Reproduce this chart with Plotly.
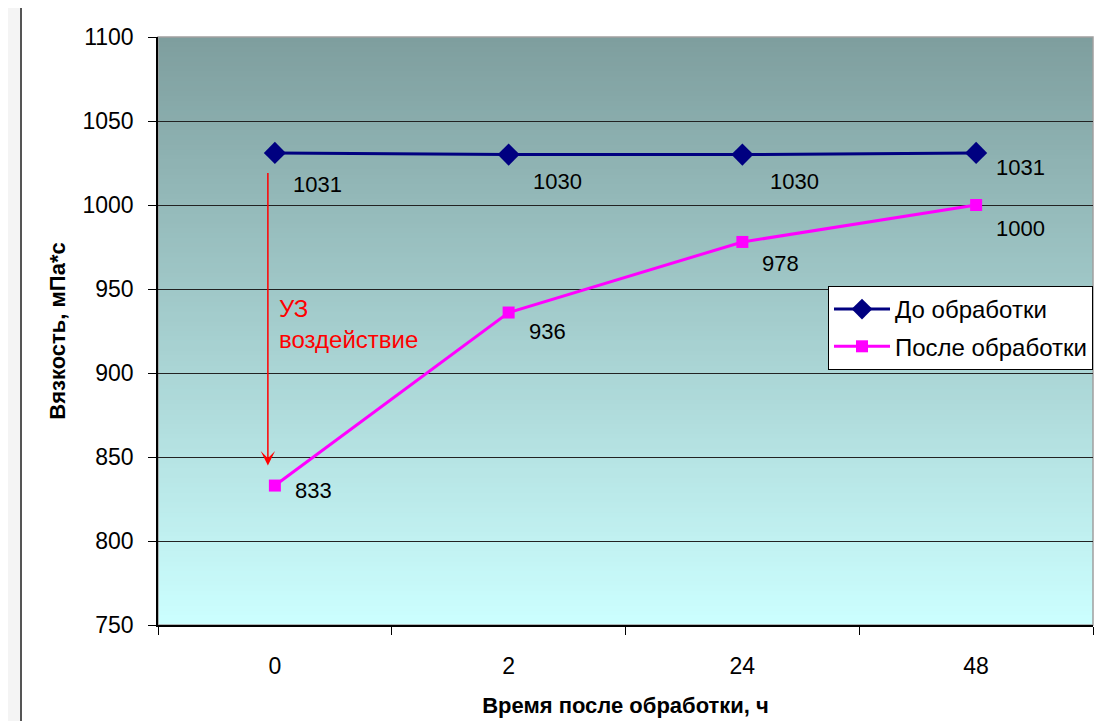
import plotly.graph_objects as go

# ---- data ----
times = ["0", "2", "24", "48"]
before = [1031, 1030, 1030, 1031]
after = [833, 936, 978, 1000]
y_ticks = [750, 800, 850, 900, 950, 1000, 1050, 1100]
series_names = ["До обработки", "После обработки"]
x_title = "Время после обработки, ч"
y_title = "Вязкость, мПа*с"
arrow_text = "УЗ<br>воздействие"
arrow_from = 1020
arrow_to = 845
arrow_label_y = 929

# ---- style ----
FONT = "Liberation Sans, Arial, sans-serif"
before_dx = [16, 22, 26, 18]
before_dy = [32, 27, 27, 15]
after_dx = [18, 18, 18, 18]
after_dy = [5, 19, 22, 23]

OFF = 8  # page body margin in the browser
W, H = 1115 - OFF, 721 - OFF
L = 158 - OFF
T = 37 - OFF
R = W - (1093 - OFF)
B = H - (625 - OFF)
pw, ph = W - L - R, H - T - B

def px_x(p):
    return (p - OFF - L) / pw

def px_y(p):
    return (H - B - (p - OFF)) / ph

fig = go.Figure()

fig.add_trace(go.Scatter(
    x=times, y=before, name=series_names[0], mode="lines+markers",
    line=dict(color="#000080", width=3),
    marker=dict(symbol="diamond", size=17, color="#000080"),
    legendgroup="a",
))
fig.add_trace(go.Scatter(
    x=times, y=after, name=series_names[1], mode="lines+markers",
    line=dict(color="#ff00ff", width=3),
    marker=dict(symbol="square", size=12, color="#ff00ff"),
    legendgroup="b",
))

shapes = []
# outer frame
shapes.append(dict(type="rect", xref="paper", yref="paper",
                   x0=px_x(21), x1=px_x(1111), y0=px_y(760), y1=px_y(6),
                   fillcolor="white", line=dict(color="#555555", width=2), layer="below"))
# gradient background strips
n = 120
c0 = (126, 158, 158)
c1 = (204, 255, 255)
for i in range(n):
    f = (i + 0.5) / n
    col = tuple(round(c0[k] + (c1[k] - c0[k]) * f) for k in range(3))
    y_top = 1 - i / n
    y_bot = 1 - (i + 1) / n - 0.002
    shapes.append(dict(type="rect", xref="x domain", yref="y domain",
                       x0=0, x1=1, y0=max(y_bot, 0), y1=y_top,
                       fillcolor="rgb(%d,%d,%d)" % col, line=dict(width=0), layer="below"))
# plot border (light gray)
shapes.append(dict(type="rect", xref="x domain", yref="y domain",
                   x0=0, x1=1, y0=0, y1=1, line=dict(color="#a0a0a0", width=1.5),
                   fillcolor="rgba(0,0,0,0)", layer="below"))

annotations = []
for i, t in enumerate(times):
    annotations.append(dict(x=i, y=before[i], text=str(before[i]), showarrow=False,
                            xanchor="left", yanchor="middle",
                            xshift=before_dx[i], yshift=-before_dy[i],
                            font=dict(family=FONT, size=22, color="black")))
    annotations.append(dict(x=i, y=after[i], text=str(after[i]), showarrow=False,
                            xanchor="left", yanchor="middle",
                            xshift=after_dx[i], yshift=-after_dy[i],
                            font=dict(family=FONT, size=22, color="black")))
# arrow
annotations.append(dict(x=0, y=arrow_to, ax=0, ay=arrow_from,
                        xref="x", yref="y", axref="x", ayref="y",
                        text="", showarrow=True, arrowhead=3, arrowsize=1.6,
                        arrowwidth=1.5, arrowcolor="#ff0000", xshift=-7, standoff=0))
annotations.append(dict(x=0, y=arrow_label_y, text=arrow_text, showarrow=False,
                        xanchor="left", yanchor="middle", align="left", xshift=2,
                        font=dict(family=FONT, size=24, color="#ff0000")))

fig.update_layout(
    width=W, height=H,
    margin=dict(l=L, r=R, t=T, b=B, autoexpand=False),
    paper_bgcolor="#f4f4f4",
    plot_bgcolor="rgba(0,0,0,0)",
    font=dict(family=FONT, size=22, color="black"),
    shapes=shapes,
    annotations=annotations,
    showlegend=True,
    legend=dict(x=px_x(828), y=px_y(286), xanchor="left", yanchor="top",
                bgcolor="white", bordercolor="black", borderwidth=1,
                font=dict(family=FONT, size=24, color="black"),
                traceorder="grouped", tracegroupgap=3, itemwidth=56),
    xaxis=dict(
        type="category", categoryorder="array", categoryarray=times,
        range=[-0.5, 3.5], tickson="boundaries", ticks="outside", ticklen=8,
        tickcolor="black", showline=True, linecolor="black", linewidth=1.5,
        showgrid=False, zeroline=False, ticklabelstandoff=20,
        tickfont=dict(family=FONT, size=23, color="black"),
        title=dict(text="<b>%s</b>" % x_title, standoff=19,
                   font=dict(family=FONT, size=22, color="black")),
        fixedrange=True,
    ),
    yaxis=dict(
        range=[750, 1100], tickvals=y_ticks, ticks="outside", ticklen=8,
        tickcolor="black", showline=True, linecolor="black", linewidth=1.5,
        showgrid=True, gridcolor="#222222", gridwidth=1, zeroline=False,
        ticklabelstandoff=10,
        tickfont=dict(family=FONT, size=23, color="black"),
        title=dict(text="<b>%s</b>" % y_title, standoff=11,
                   font=dict(family=FONT, size=22, color="black")),
        fixedrange=True,
    ),
)

fig.write_html("out.html")
